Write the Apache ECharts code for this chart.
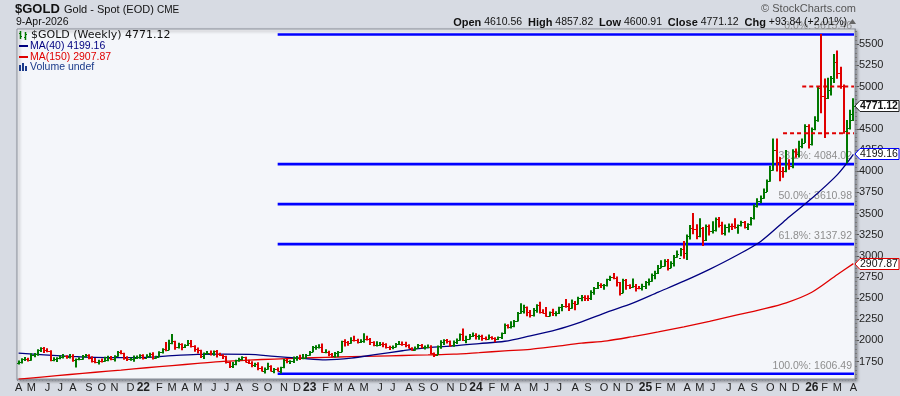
<!DOCTYPE html>
<html><head><meta charset="utf-8">
<script src="https://cdn.jsdelivr.net/npm/echarts@6/dist/echarts.min.js"></script>
<style>html,body{margin:0;padding:0;background:#d7dbe3;overflow:hidden}#c{width:900px;height:396px}</style>
</head><body><div id="c"></div><script>
// Weekly OHLC bars [open, high, low, close], weeks starting Monday
const firstWeek = '2021-04-05';
const bars2021 = [
[1728,1758,1721,1744],[1744,1784,1732,1777],[1777,1797,1764,1777],[1777,1790,1756,1768],
[1768,1843,1767,1831],[1831,1846,1808,1838],[1838,1890,1826,1881],[1881,1913,1870,1905],[1905,1916,1856,1891],
[1891,1903,1867,1877],[1877,1878,1761,1764],[1764,1795,1761,1781],[1781,1795,1750,1787],
[1787,1818,1784,1808],[1808,1834,1792,1812],[1812,1818,1788,1802],[1802,1833,1791,1814],
[1814,1832,1754,1763],[1763,1781,1687,1780],[1780,1795,1772,1781],[1781,1823,1776,1817],[1817,1834,1805,1827],
[1827,1830,1782,1787],[1787,1808,1745,1754],[1754,1787,1737,1750],[1750,1765,1721,1761],
[1761,1781,1746,1757],[1757,1800,1753,1768],[1768,1814,1760,1793],[1793,1810,1772,1783],
[1783,1818,1758,1818],[1818,1869,1813,1865],[1865,1877,1843,1846],[1846,1849,1778,1788],[1788,1808,1762,1783],
[1783,1793,1767,1783],[1783,1815,1753,1798],[1798,1815,1785,1809],[1809,1831,1789,1829]
];
const bars2022 = [
[1829,1831,1779,1797],[1797,1830,1797,1817],[1817,1848,1805,1835],[1835,1853,1780,1792],[1792,1813,1788,1808],
[1808,1865,1806,1859],[1859,1902,1850,1898],[1898,1974,1878,1889],[1889,2002,1889,1970],
[1970,2070,1960,1988],[1988,1990,1895,1921],[1921,1966,1910,1958],[1958,1960,1890,1925],
[1925,1950,1915,1945],[1945,1998,1940,1974],[1974,1998,1921,1934],[1934,1936,1872,1896],
[1896,1910,1850,1883],[1883,1885,1798,1811],[1811,1850,1786,1846],[1846,1870,1839,1853],[1853,1874,1828,1850],
[1850,1876,1825,1871],[1871,1880,1805,1840],[1840,1847,1822,1827],[1827,1832,1785,1811],
[1811,1814,1732,1742],[1742,1745,1681,1703],[1703,1739,1680,1727],[1727,1767,1711,1766],
[1766,1788,1754,1775],[1775,1807,1771,1802],[1802,1802,1745,1747],[1747,1765,1728,1738],[1738,1749,1688,1712],
[1712,1730,1691,1717],[1717,1735,1654,1675],[1675,1688,1639,1644],[1644,1673,1615,1661],
[1661,1730,1660,1695],[1695,1700,1640,1644],[1644,1668,1617,1657],[1657,1675,1638,1644],
[1644,1683,1616,1681],[1681,1775,1676,1771],[1771,1786,1737,1751],[1751,1761,1727,1755],[1755,1805,1739,1797],
[1797,1810,1766,1797],[1797,1825,1774,1793],[1793,1833,1784,1798],[1798,1833,1797,1824]
];
const bars2023 = [
[1824,1870,1824,1866],[1866,1929,1866,1920],[1920,1937,1896,1926],[1926,1949,1911,1928],[1928,1959,1861,1865],
[1865,1891,1853,1865],[1865,1872,1819,1842],[1842,1845,1804,1811],[1811,1858,1805,1856],
[1856,1870,1809,1868],[1868,1989,1866,1989],[1989,2009,1934,1978],[1978,1986,1944,1969],
[1969,2032,1966,2008],[2008,2049,1993,2004],[2004,2015,1969,1983],[1983,2009,1975,1990],
[1990,2079,1978,2016],[2016,2048,2006,2011],[2011,2022,1952,1978],[1978,1985,1937,1946],[1946,1983,1933,1948],
[1948,1975,1940,1962],[1962,1971,1925,1958],[1958,1960,1910,1921],[1921,1930,1893,1919],
[1919,1935,1902,1925],[1925,1963,1923,1955],[1955,1987,1951,1962],[1962,1982,1942,1959],[1959,1979,1926,1943],
[1943,1948,1911,1914],[1914,1914,1885,1889],[1889,1923,1884,1914],[1914,1953,1914,1940],
[1940,1953,1914,1919],[1919,1933,1900,1924],[1924,1947,1913,1925],[1925,1936,1846,1849],
[1849,1852,1810,1833],[1833,1933,1833,1932],[1932,1997,1908,1981],[1981,2009,1953,2006],[2006,2010,1970,1992],
[1992,1994,1932,1940],[1940,1993,1931,1981],[1981,2017,1965,2002],[2002,2075,2001,2072],
[2072,2135,1998,2005],[2005,2048,1973,2020],[2020,2071,2016,2053],[2053,2088,2046,2063]
];
const bars2024 = [
[2063,2078,2017,2049],[2049,2062,2013,2049],[2049,2060,2002,2029],[2029,2041,2009,2018],[2018,2065,2018,2039],
[2039,2044,2015,2024],[2024,2032,1984,2013],[2013,2041,2010,2035],[2035,2088,2024,2083],
[2083,2195,2083,2179],[2179,2185,2146,2155],[2155,2222,2146,2165],[2165,2236,2163,2230],
[2230,2330,2229,2330],[2330,2432,2320,2344],[2344,2417,2325,2392],[2392,2395,2291,2337],[2337,2353,2277,2301],
[2301,2378,2290,2360],[2360,2422,2333,2415],[2415,2450,2325,2334],[2334,2364,2325,2327],
[2327,2388,2286,2293],[2293,2335,2290,2333],[2333,2368,2295,2321],[2321,2340,2293,2326],
[2326,2392,2318,2392],[2392,2424,2350,2411],[2411,2483,2393,2401],[2401,2432,2353,2386],[2386,2477,2381,2443],
[2443,2461,2364,2431],[2431,2509,2431,2507],[2507,2531,2470,2512],[2512,2528,2471,2503],
[2503,2529,2472,2497],[2497,2586,2485,2577],[2577,2625,2546,2621],[2621,2685,2615,2658],[2658,2670,2625,2653],
[2653,2660,2604,2657],[2657,2722,2643,2721],[2721,2758,2708,2747],[2747,2790,2730,2736],
[2736,2750,2643,2685],[2685,2685,2537,2563],[2563,2722,2563,2716],[2716,2721,2605,2650],
[2650,2658,2613,2633],[2633,2726,2628,2648],[2648,2660,2583,2622],[2622,2638,2610,2621],[2621,2665,2596,2640]
];
const bars2025 = [
[2640,2697,2615,2690],[2690,2725,2656,2703],[2703,2786,2698,2770],[2770,2817,2730,2800],
[2800,2886,2790,2861],[2861,2942,2860,2882],[2882,2955,2880,2936],[2936,2956,2833,2858],
[2858,2930,2858,2910],[2910,3004,2880,2984],[2984,3057,2982,3023],[2980,3087,3000,3085],[3085,3168,2972,3037],
[3037,3245,2957,3237],[3237,3358,3200,3327],[3327,3500,3260,3319],[3319,3368,3202,3240],
[3240,3438,3226,3325],[3325,3336,3121,3188],[3188,3365,3180,3357],[3357,3365,3245,3289],
[3289,3403,3271,3310],[3310,3446,3293,3433],[3433,3452,3340,3368],[3368,3398,3255,3274],[3274,3365,3247,3337],
[3337,3375,3283,3356],[3356,3375,3310,3350],[3350,3439,3325,3337],[3337,3363,3268,3362],
[3362,3409,3351,3398],[3398,3405,3330,3336],[3336,3379,3311,3372],[3372,3453,3364,3448],
[3448,3600,3436,3587],[3587,3674,3578,3643],[3643,3707,3628,3685],[3685,3791,3680,3760],[3760,3897,3760,3886],
[3886,4059,3880,4018],[4018,4380,4010,4252],[4252,4381,4004,4113],[4113,4161,3886,4002],
[4002,4045,3930,4000],[4000,4245,3995,4085],[4085,4135,4022,4065],[4065,4255,4040,4239],
[4239,4264,4166,4198],[4198,4353,4168,4300],[4300,4382,4277,4339],[4339,4550,4339,4533],[4533,4549,4274,4319]
];
const bars2026 = [
[4319,4510,4310,4500],[4500,4643,4490,4600],[4600,4990,4590,4980],[4980,5615.46,4690,4890],
[4890,5090,4400,4870],[4870,5100,4860,4960],[4960,5120,4900,5100],[5100,5380,5050,5290],
[5290,5420,5100,5160],[5160,5230,4980,5010],[5010,5020,4450,4480],[4480,4600,4100,4510],
[4510,4720,4500,4677.28],[4610.56,4857.82,4600.91,4771.12]
];

// Moving averages read at every 8th week
const maWeeks = ['2021-04-05','2021-05-31','2021-07-26','2021-09-20','2021-11-15','2022-01-10','2022-03-07','2022-05-02',
'2022-06-27','2022-08-22','2022-10-17','2022-12-12','2023-02-06','2023-04-03','2023-05-29','2023-07-24','2023-09-18',
'2023-11-13','2024-01-08','2024-03-04','2024-04-29','2024-06-24','2024-08-19','2024-10-14','2024-12-09','2025-02-03',
'2025-03-31','2025-05-26','2025-07-21','2025-09-15','2025-11-10','2026-01-05','2026-03-02','2026-04-06'];
const ma40 = [1849,1830,1812,1800,1797,1800,1820,1835,1838,1836,1812,1790,1770,1790,1835,1878,1915,
1935,1962,1990,2055,2125,2220,2335,2440,2570,2700,2840,2995,3170,3430,3680,3960,4199.16];
const ma150 = [1542,1570,1597,1624,1650,1677,1703,1728,1752,1768,1780,1790,1800,1808,1815,1822,1829,
1837,1856,1876,1895,1930,1967,1995,2045,2100,2160,2225,2295,2365,2445,2570,2780,2907.87];

// Fibonacci retracement and annotation lines
const fibPct = ['0.0%','38.2%','50.0%','61.8%','100.0%'];
const fibLevels = [5615.46,4084.02,3610.98,3137.92,1606.49];
const fibStartWeek = '2022-10-24';
const dashLevels = [5000, 4450];
const dashStartWeeks = ['2025-12-15','2025-11-03'];

const yTicks = [1750,2000,2250,2500,2750,3000,3250,3500,3750,4000,4250,4500,4750,5000,5250,5500];
const yMin = 1544, yMax = 5681;
const monthInitials = ['J','F','M','A','M','J','J','A','S','O','N','D'];

// ---- build ----
const bars = [].concat(bars2021,bars2022,bars2023,bars2024,bars2025,bars2026);
const weeks = [];
{
  const d0 = new Date(firstWeek + 'T00:00:00Z');
  for (let i = 0; i < bars.length; i++) {
    const d = new Date(d0.getTime() + i*7*86400000);
    weeks.push(d.toISOString().slice(0,10));
  }
}
const lastIdx = bars.length - 1;
const last = bars[lastIdx], prevClose = bars[lastIdx-1][3];
const GREEN = '#007800', RED = '#e00000', NAVY = '#000080', BLUE = '#0000ff';

const ohlcData = bars.map((b,i)=>[i,b[0],b[1],b[2],b[3]]);
const ma40Data = maWeeks.map((w,k)=>[weeks.indexOf(w), ma40[k]]);
const ma150Data = maWeeks.map((w,k)=>[weeks.indexOf(w), ma150[k]]);
const fibStart = weeks.indexOf(fibStartWeek);
const fibData = fibLevels.map((v,k)=>[fibStart, v, k]);
const dashData = dashLevels.map((v,k)=>[weeks.indexOf(dashStartWeeks[k]), v]);
const tagData = [
  [lastIdx, last[3], 0],
  [lastIdx, ma40[ma40.length-1], 1],
  [lastIdx, ma150[ma150.length-1], 2]
];
const minorTicks = [];
for (let v = 1550; v <= 5650; v += 50) minorTicks.push(v);

const fmt = v => v.toFixed(2);
const chg = last[3] - prevClose;
const chgPct = chg / prevClose * 100;

const chart = echarts.init(document.getElementById('c'), null, {renderer:'canvas'});
chart.setOption({
  animation: false,
  backgroundColor: '#d7dbe3',
  grid: {left:17, right:45, top:29, bottom:17, show:true, backgroundColor:'#f4f6fa',
         borderColor:'#8a8f99', borderWidth:1, shadowColor:'rgba(0,0,0,0.35)', shadowBlur:3, shadowOffsetX:2, shadowOffsetY:2},
  xAxis: {
    type:'category', data: weeks, boundaryGap:true,
    axisLine:{show:true, lineStyle:{color:'#8a8f99'}},
    axisTick:{show:true, interval:0, length:2, lineStyle:{color:'#8a8f99'}},
    splitLine:{show:false},
    axisLabel:{
      margin:3, color:'#222', fontSize:11, fontFamily:'Arial, Liberation Sans',
      interval: function(i, v){ return i===0 || v.slice(5,7) !== weeks[i-1].slice(5,7); },
      formatter: function(v){
        const m = parseInt(v.slice(5,7),10)-1;
        if (m===0) return '{y|' + v.slice(2,4) + '}';
        return monthInitials[m];
      },
      rich:{ y:{fontWeight:'bold', fontSize:12, color:'#222', fontFamily:'Arial, Liberation Sans'} }
    }
  },
  yAxis: [{
    type:'value', position:'right', min:yMin, max:yMax,
    splitLine:{show:false},
    axisLine:{show:true, lineStyle:{color:'#8a8f99'}},
    axisTick:{show:true, customValues:yTicks, length:4, lineStyle:{color:'#555'}},
    axisLabel:{customValues:yTicks, color:'#222', fontSize:11, fontFamily:'Arial, Liberation Sans', margin:4,
      formatter: function(v){ return String(v); }}
  },{
    type:'value', position:'right', min:yMin, max:yMax,
    splitLine:{show:false}, axisLine:{show:false},
    axisTick:{show:true, customValues:minorTicks, length:2, lineStyle:{color:'#777'}},
    axisLabel:{show:false}
  }],
  series: [
    { // Fibonacci lines + labels (under bars)
      type:'custom', z:1, clip:false, data: fibData,
      renderItem: function(params, api){
        const p = api.coord([api.value(0), api.value(1)]);
        const right = params.coordSys.x + params.coordSys.width;
        const k = api.value(2);
        return {type:'group', children:[
          {type:'line', shape:{x1:p[0], y1:p[1], x2:right-1, y2:p[1]}, style:{stroke:BLUE, lineWidth:2.6}},
          {type:'text', style:{text: fibPct[k] + ': ' + fmt(fibLevels[k]), x:right-3, y:p[1]-8,
            align:'right', verticalAlign:'middle', fill:'#8e8e8e', font:'10.5px Arial, Liberation Sans'}}
        ]};
      }
    },
    { type:'line', name:'MA(150)', z:2, data: ma150Data, smooth:0.3, symbol:'none',
      lineStyle:{color:RED, width:1.3} },
    { type:'line', name:'MA(40)', z:2, data: ma40Data, smooth:0.3, symbol:'none',
      lineStyle:{color:NAVY, width:1.3} },
    { // OHLC bars
      type:'custom', z:3, data: ohlcData, encode:{x:0, y:[1,2,3,4]},
      renderItem: function(params, api){
        const i = api.value(0);
        const o=api.value(1), h=api.value(2), l=api.value(3), c=api.value(4);
        const pc = i>0 ? bars[i-1][3] : o;
        const col = c >= pc ? GREEN : RED;
        const x = Math.round(api.coord([i, c])[0]);
        const yh = api.coord([i,h])[1], yl = api.coord([i,l])[1];
        const yo = Math.round(api.coord([i,o])[1]) + 0.5, yc = Math.round(api.coord([i,c])[1]) + 0.5;
        return {type:'group', children:[
          {type:'line', shape:{x1:x, y1:yh-0.5, x2:x, y2:yl+0.5}, style:{stroke:col, lineWidth:2}},
          {type:'line', shape:{x1:x-2, y1:yo, x2:x, y2:yo}, style:{stroke:col, lineWidth:1.2}},
          {type:'line', shape:{x1:x, y1:yc, x2:x+2, y2:yc}, style:{stroke:col, lineWidth:1.2}}
        ]};
      }
    },
    { // red dashed annotation lines
      type:'custom', z:4, data: dashData,
      renderItem: function(params, api){
        const p = api.coord([api.value(0), api.value(1)]);
        const right = params.coordSys.x + params.coordSys.width;
        return {type:'line', shape:{x1:p[0], y1:p[1], x2:right-1, y2:p[1]},
          style:{stroke:RED, lineWidth:2, lineDash:[4,3]}};
      }
    },
    { // price tags at right axis
      type:'custom', z:10, clip:false, data: tagData,
      renderItem: function(params, api){
        const y = Math.round(api.coord([api.value(0), api.value(1)])[1]);
        const x = params.coordSys.x + params.coordSys.width;
        const k = api.value(2);
        const border = k===0 ? '#222' : (k===1 ? BLUE : RED);
        return {type:'group', children:[
          {type:'polygon', shape:{points:[[x,y],[x+5,y-5.5],[x+44,y-5.5],[x+44,y+5.5],[x+5,y+5.5]]},
            style:{fill:'#ffffff', stroke:border, lineWidth:1}},
          {type:'text', style:{text: fmt(api.value(1)), x:x+5, y:y+0.5, align:'left', verticalAlign:'middle',
            fill:'#111', font:(k===0?'bold ':'') + '10.5px Arial, Liberation Sans'}}
        ]};
      }
    }
  ],
  graphic: [
    {type:'text', z:100, left:15, top:3, style:{text:'$GOLD', font:'bold 13px Arial, Liberation Sans', fill:'#111'}},
    {type:'text', z:100, left:64, top:4, style:{text:'Gold - Spot (EOD)', font:'11px Arial, Liberation Sans', fill:'#111'}},
    {type:'text', z:100, left:157, top:5, style:{text:'CME', font:'10px Arial, Liberation Sans', fill:'#111'}},
    {type:'text', z:100, left:16, top:17, style:{text:'9-Apr-2026', font:'10.5px Arial, Liberation Sans', fill:'#111'}},
    {type:'text', z:100, right:44, top:3, style:{text:'\u00a9 StockCharts.com', font:'11px Arial, Liberation Sans', fill:'#555'}},
    {type:'text', z:100, right:53, top:17, style:{
      text:'{b|Open} ' + fmt(last[0]) + '  {b|High} ' + fmt(last[1]) + '  {b|Low} ' + fmt(last[2]) +
           '  {b|Close} ' + fmt(last[3]) + '  {b|Chg} ' + (chg>=0?'+':'') + fmt(chg) + ' (' + (chg>=0?'+':'') + chgPct.toFixed(2) + '%)',
      font:'10.5px Arial, Liberation Sans', fill:'#111',
      rich:{b:{fontWeight:'bold', fontSize:11, fontFamily:'Arial, Liberation Sans', fill:'#111'}}}},
    {type:'polygon', z:100, shape:{points:[[849,24],[852.5,19],[856,24]]}, style:{fill:'#666'}},
    // in-chart legend
    {type:'group', z:100, children:[
      {type:'line', shape:{x1:20.5,y1:31,x2:20.5,y2:39}, style:{stroke:GREEN, lineWidth:1.5}},
      {type:'line', shape:{x1:19,y1:33.5,x2:20.5,y2:33.5}, style:{stroke:GREEN, lineWidth:1}},
      {type:'line', shape:{x1:20.5,y1:36.5,x2:22,y2:36.5}, style:{stroke:GREEN, lineWidth:1}},
      {type:'line', shape:{x1:25.5,y1:32,x2:25.5,y2:40}, style:{stroke:GREEN, lineWidth:1.5}},
      {type:'line', shape:{x1:24,y1:37.5,x2:25.5,y2:37.5}, style:{stroke:GREEN, lineWidth:1}},
      {type:'line', shape:{x1:25.5,y1:34.5,x2:27,y2:34.5}, style:{stroke:GREEN, lineWidth:1}},
      {type:'line', shape:{x1:19,y1:46,x2:28,y2:46}, style:{stroke:NAVY, lineWidth:2}},
      {type:'line', shape:{x1:19,y1:57,x2:28,y2:57}, style:{stroke:RED, lineWidth:2}},
      {type:'rect', shape:{x:19,y:65,width:2,height:6}, style:{fill:'#1a3a8a'}},
      {type:'rect', shape:{x:22,y:63,width:2,height:8}, style:{fill:'#1a3a8a'}},
      {type:'rect', shape:{x:25,y:66,width:2,height:5}, style:{fill:'#1a3a8a'}}
    ]},
    {type:'text', z:100, left:31, top:30, style:{text:'$GOLD (Weekly) ' + fmt(last[3]), font:'11px DejaVu Sans, Verdana', fill:'#111'}},
    {type:'text', z:100, left:30, top:41, style:{text:'MA(40) ' + fmt(ma40[ma40.length-1]), font:'10.5px Arial, Liberation Sans', fill:NAVY}},
    {type:'text', z:100, left:30, top:52, style:{text:'MA(150) ' + fmt(ma150[ma150.length-1]), font:'10.5px Arial, Liberation Sans', fill:RED}},
    {type:'text', z:100, left:30, top:62, style:{text:'Volume undef', font:'10.5px Arial, Liberation Sans', fill:'#1a3a8a'}}
  ]
});
</script></body></html>
